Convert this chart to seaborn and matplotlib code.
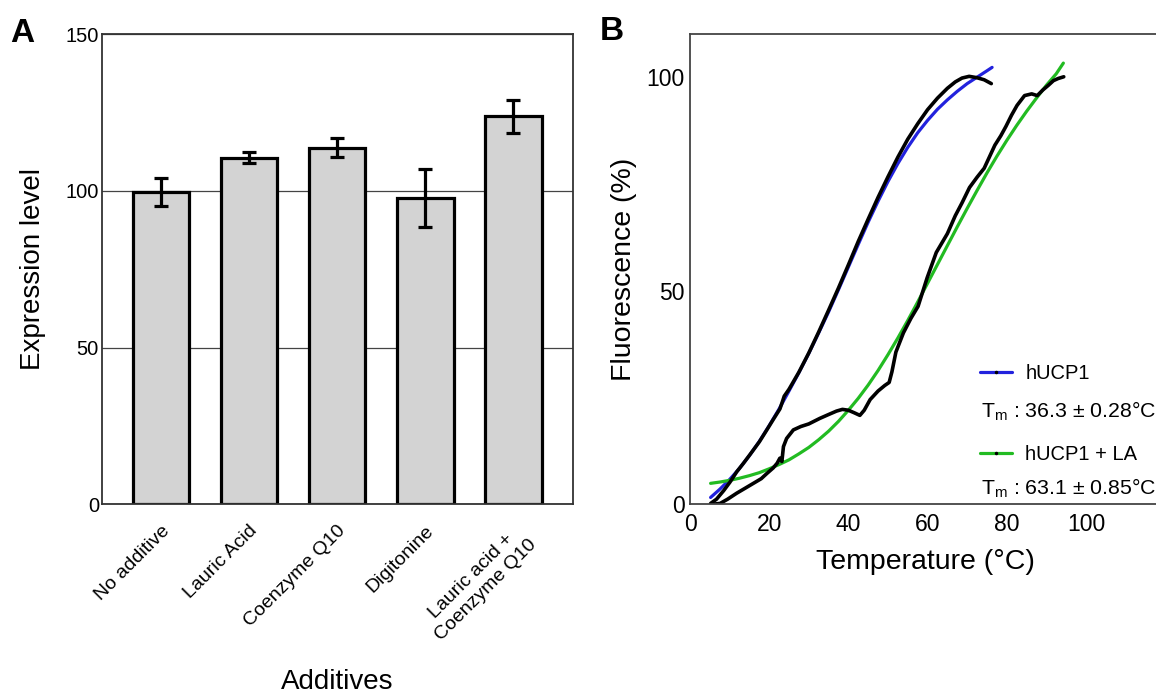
import matplotlib
matplotlib.use("Agg")
import matplotlib.pyplot as plt
from matplotlib.lines import Line2D
import seaborn as sns
import pandas as pd

# panel A: expression level per additive
additives = ['No additive', 'Lauric Acid', 'Coenzyme Q10', 'Digitonine',
             'Lauric acid +\nCoenzyme Q10']
expression = [99.7, 110.6, 113.8, 97.7, 123.8]
expression_err = [4.4, 1.8, 2.9, 9.3, 5.3]

# panel B: melting curves
fit1_t = [5.2, 7.5, 10, 12.5, 15, 17.5, 20, 22.5, 25, 27.5, 30, 32.5, 35, 37.5, 40, 42.5,
          45, 47.5, 50, 52.5, 55, 57.5, 60, 62.5, 65, 67.5, 70, 72.5, 75, 76.3]
fit1_f = [1.6, 3.5, 5.8, 8.4, 11.4, 14.7, 18.4, 22.3, 26.5, 30.8, 35.3, 40.1, 45.0, 50.2, 55.5, 60.8,
          66.0, 70.9, 75.5, 79.7, 83.5, 86.9, 89.8, 92.4, 94.6, 96.6, 98.4, 99.9, 101.4, 102.2]

fit2_t = [5.2, 7.5, 10, 12.5, 15, 17.5, 20, 22.5, 25, 27.5, 30, 32.5, 35, 37.5, 40, 42.5, 45, 47.5,
          50, 52.5, 55, 57.5, 60, 62.5, 65, 67.5, 70, 72.5, 75, 77.5, 80, 82.5, 85, 87.5, 90, 92.5, 94.3]
fit2_f = [4.9, 5.2, 5.6, 6.1, 6.7, 7.4, 8.3, 9.3, 10.4, 11.8, 13.3, 15.1, 17.1, 19.4, 22.0, 24.8, 27.9, 31.3,
          35.0, 38.9, 43.0, 47.3, 51.7, 56.1, 60.5, 64.9, 69.2, 73.4, 77.5, 81.4, 85.1, 88.6, 91.9, 95.0,
          98.0, 100.7, 103.2]

data1_t = [5.2, 6.7, 8.5, 10.1, 11.8, 13.5, 15.2, 17.5, 19.4, 21.0, 22.7, 23.3, 23.8, 25.0, 27.5, 30,
           32.5, 35, 37.5, 40, 42.5, 45, 47.5, 50, 52.5, 55, 57.5, 60, 62.5, 65, 67, 68.7, 70.5,
           72.4, 74.3, 76.1]
data1_f = [0.2, 1.2, 3.2, 5.2, 7.6, 9.6, 11.7, 14.6, 17.4, 19.8, 22.3, 23.9, 25.3, 26.9, 30.9, 35.4,
           40.3, 45.4, 50.6, 56.0, 61.5, 66.7, 71.8, 76.6, 81.2, 85.4, 89.0, 92.3, 95.0, 97.3, 98.8,
           99.7, 100.1, 99.8, 99.3, 98.4]

data2_t = [5.5, 7.6, 9.5, 11.8, 14.0, 16.0, 18.0, 19.4, 21.0, 22.0, 22.7, 23.2, 23.6, 24.4, 26.1, 28.0,
           30.0, 32.8, 35.0, 37.0, 38.5, 40.0, 41.5, 42.9, 44.0, 45.5, 47.5, 49.2, 50.3, 51.0, 52.0,
           53.9, 55.8, 57.6, 59.9, 62.2, 65.0, 67.0, 68.7, 70.6, 72.5, 74.3, 76.0, 77.0, 78.5, 79.8,
           81.2, 82.6, 84.5, 86.3, 87.7, 89.1, 90.5, 91.8, 93.0, 94.4]
data2_f = [0.0, 0.2, 1.2, 2.6, 3.8, 4.9, 6.0, 7.2, 8.5, 9.6, 10.8, 10.0, 13.5, 15.4, 17.4, 18.2,
           18.8, 20.1, 21.0, 21.8, 22.2, 22.0, 21.4, 20.8, 22.0, 24.5, 26.5, 27.8, 28.5, 31.0, 35.6,
           40.1, 43.5, 46.3, 53.0, 58.9, 63.3, 67.5, 70.5, 74.1, 76.5, 78.6, 82.0, 84.0, 86.2, 88.4,
           91.0, 93.3, 95.6, 96.0, 95.6, 96.9, 98.0, 99.1, 99.6, 100.0]

sns.set_theme(style="white")
plt.rcParams['font.family'] = ['Liberation Sans', 'DejaVu Sans']
plt.rcParams['text.color'] = 'black'
plt.rcParams['axes.labelcolor'] = 'black'
plt.rcParams['xtick.color'] = 'black'
plt.rcParams['ytick.color'] = 'black'

fig = plt.figure(figsize=(11.56, 6.93), dpi=100)
axA = fig.add_axes([0.088, 0.2723, 0.4073, 0.6786])
axB = fig.add_axes([0.5969, 0.2723, 0.4031, 0.6786])

# ---- panel A
dfA = pd.DataFrame({'additive': additives, 'expression': expression})
sns.barplot(data=dfA, x='additive', y='expression', color='#d3d3d3', saturation=1,
            edgecolor='black', linewidth=2.3, width=0.64, ax=axA, errorbar=None)
axA.errorbar(range(len(additives)), expression, yerr=expression_err, fmt='none',
             ecolor='black', elinewidth=2.3, capsize=5.2, capthick=2.3, zorder=5)
axA.set_ylim(0, 150)
axA.set_xlim(-0.67, 4.67)
axA.set_yticks([0, 50, 100, 150])
axA.yaxis.grid(True, color='#444444', linewidth=0.9)
axA.set_axisbelow(True)
for s in axA.spines.values():
    s.set_color('#333333')
    s.set_linewidth(1.3)
axA.tick_params(axis='y', length=0, pad=2, labelsize=14.5)
axA.tick_params(axis='x', length=0, pad=13, labelsize=14)
plt.setp(axA.get_xticklabels(), rotation=45, ha='right', rotation_mode='anchor',
         multialignment='center')
axA.set_ylabel('Expression level', fontsize=20)
axA.set_xlabel('Additives', fontsize=20)
axA.yaxis.set_label_coords(-0.118, 0.5)
axA.xaxis.set_label_coords(0.5, -0.35)

# ---- panel B
sns.lineplot(x=fit1_t, y=fit1_f, color='#2222dd', linewidth=2.3, ax=axB)
sns.lineplot(x=fit2_t, y=fit2_f, color='#22bb22', linewidth=2.3, ax=axB)
sns.lineplot(x=data1_t, y=data1_f, color='black', linewidth=2.6, ax=axB)
sns.lineplot(x=data2_t, y=data2_f, color='black', linewidth=2.6, ax=axB)
axB.set_xlim(0, 117.7)
axB.set_ylim(0, 110)
axB.set_xticks([0, 20, 40, 60, 80, 100])
axB.set_yticks([0, 50, 100])
axB.spines['right'].set_visible(False)
for s in ['left', 'bottom', 'top']:
    axB.spines[s].set_color('#444444')
    axB.spines[s].set_linewidth(1.3)
axB.tick_params(direction='in', length=5, width=1.2, color='#444444', labelsize=16.5)
axB.tick_params(axis='x', pad=6)
axB.tick_params(axis='y', pad=4)
axB.set_xlabel('Temperature (°C)', fontsize=20.5)
axB.set_ylabel('Fluorescence (%)', fontsize=20.5)
axB.yaxis.set_label_coords(-0.114, 0.5)
axB.xaxis.set_label_coords(0.505, -0.095)

handles = [Line2D([], [], color='#2222dd', lw=2.3, marker='.', markersize=3,
                  markerfacecolor='black', markeredgecolor='black'),
           Line2D([], [], color='#22bb22', lw=2.3, marker='.', markersize=3,
                  markerfacecolor='black', markeredgecolor='black')]
axB.legend(handles, ['hUCP1', 'hUCP1 + LA'], loc='upper left', bbox_to_anchor=(0.622, 0.298),
           frameon=False, fontsize=14.5, handlelength=1.6, handletextpad=0.65,
           labelspacing=3.05, borderpad=0, borderaxespad=0)
axB.text(0.6245, 0.199, r'T$_\mathregular{m}$ : 36.3 $\mathregular{\pm}$ 0.28°C',
         transform=axB.transAxes, fontsize=15.3, va='center', ha='left')
axB.text(0.6245, 0.035, r'T$_\mathregular{m}$ : 63.1 $\mathregular{\pm}$ 0.85°C',
         transform=axB.transAxes, fontsize=15.3, va='center', ha='left')

fig.text(0.009, 0.939, 'A', fontsize=24, fontweight='bold', va='baseline')
fig.text(0.519, 0.942, 'B', fontsize=24, fontweight='bold', va='baseline')

fig.savefig('out.png', dpi=100)
